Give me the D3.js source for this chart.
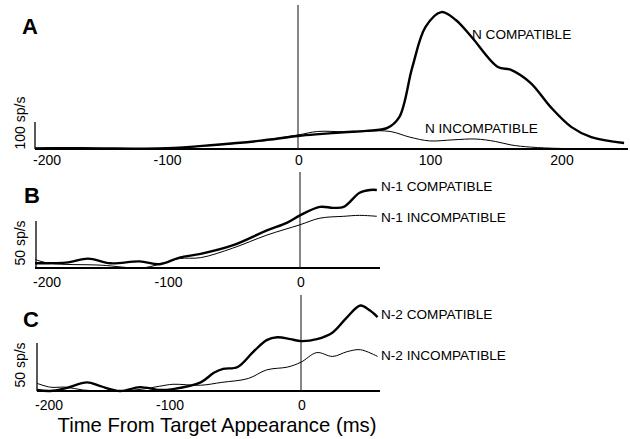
<!DOCTYPE html>
<html><head><meta charset="utf-8">
<script src="https://cdn.jsdelivr.net/npm/d3@7"></script>
<style>body{margin:0;background:#fff}svg{display:block}text{font-family:"Liberation Sans",Arial,sans-serif;fill:#000}</style>
</head><body><svg id="c" width="630" height="439"></svg>
<script>
// ---- data (time in ms relative to target appearance, rate in sp/s) ----
const tickValues = [-200, -100, 0, 100, 200];
const tickLabelsA = ["-200", "-100", "0", "100", "200"];
const tickLabelsBC = ["-200", "-100", "0"];

const tA = [-200,-175,-150,-100,-64,-30,0,16,35,52,68,77,87,97,109,120,132,152,162,177,192,208,223,248];
const nCompat = [2,3,2,3,15,30,48,55,62,67,78,118,304,452,507,478,415,304,293,244,156,81,44,22];
const tAi = [-200,-175,-150,-100,-64,-30,0,15,35,52,70,85,100,118,135,150,162,177,200,248];
const nIncompat = [2,5,2,3,14,30,52,65,64,67,65,44,30,34,37,28,15,7,2,1];

const tB = [-200,-175,-160,-143,-121,-106,-91,-75,-51,-25,-10,0,15,25,33,45,53,58];
const n1Compat = [5,6,10,5,7,4,11,15,24,40,48,56,65,64,65,80,83,83];
const tBi = [-200,-189,-150,-120,-106,-91,-75,-51,-25,0,15,33,45,58];
const n1Incompat = [9,5,3,0,4,10,11,21,35,46,53,55,56,55];

const tC = [-200,-190,-178,-162,-152,-137,-122,-107,-97,-76,-66,-59,-48,-36,-26,-18,-8,0,12,24,35,45,52,58];
const n2Compat = [1,0,3,9,5,0,4,1,2,9,19,23,25,41,53,56,54,52,54,61,77,89,84,77];
const tCi = [-200,-190,-178,-165,-150,-137,-120,-107,-97,-76,-60,-40,-26,-10,0,12,24,35,45,58];
const n2Incompat = [8,4,4,1,0,0,2,5,7,6,9,13,22,25,30,40,36,41,43,36];

const panelLetters = ["A","B","C"];
const scaleLabels = ["100 sp/s","50 sp/s","50 sp/s"];
const scaleValues = [100, 50, 50];
const seriesLabels = [["N COMPATIBLE","N INCOMPATIBLE"],["N-1 COMPATIBLE","N-1 INCOMPATIBLE"],["N-2 COMPATIBLE","N-2 INCOMPATIBLE"]];
const xTitle = "Time From Target Appearance (ms)";

// ---- layout ----
const svg = d3.select("#c");
const panels = [
  {x0:35, x1:628, zeroX:298, base:149, pxPer:0.27, vTop:5, ticks:tickValues, tickLabels:tickLabelsA,
   comp:[tA,nCompat], inc:[tAi,nIncompat], letter:[22,34], scaleX:35, ylab:[20,123],
   lab:[[472,39],[425,133]], tickY:165},
  {x0:35, x1:380, zeroX:300, base:268, pxPer:0.94, vTop:172, ticks:tickValues.slice(0,3), tickLabels:tickLabelsBC,
   comp:[tB,n1Compat], inc:[tBi,n1Incompat], letter:[24,203], scaleX:36, ylab:[20,243],
   lab:[[381,191],[381,222]], tickY:287},
  {x0:37, x1:380, zeroX:301, base:391, pxPer:0.96, vTop:295, ticks:tickValues.slice(0,3), tickLabels:tickLabelsBC,
   comp:[tC,n2Compat], inc:[tCi,n2Incompat], letter:[23,327], scaleX:37, ylab:[20,365],
   lab:[[381,319],[381,360]], tickY:410}
];

panels.forEach((p, i) => {
  const x = d3.scaleLinear().domain([-200, 0]).range([p.x0, p.zeroX]);
  const ymax = 600;
  const y = d3.scaleLinear().domain([0, ymax]).range([p.base, p.base - ymax * p.pxPer]);
  const g = svg.append("g");

  g.append("line").attr("x1", p.x0).attr("x2", p.x1).attr("y1", p.base).attr("y2", p.base)
    .attr("stroke", "#000").attr("stroke-width", 2.2);
  g.append("line").attr("x1", x(0)).attr("x2", x(0)).attr("y1", p.vTop).attr("y2", p.base)
    .attr("stroke", "#222").attr("stroke-width", 1.1);
  g.append("line").attr("x1", p.scaleX).attr("x2", p.scaleX).attr("y1", y(scaleValues[i])).attr("y2", p.base)
    .attr("stroke", "#000").attr("stroke-width", 1.3);
  g.append("text").attr("transform", `translate(${p.ylab[0] + 5},${p.ylab[1]}) rotate(-90)`)
    .attr("text-anchor", "middle").attr("font-size", 14).text(scaleLabels[i]);

  p.ticks.forEach((v, k) => {
    g.append("text").attr("x", k === 0 ? x(v) - 2 : x(v) + 1).attr("y", p.tickY)
      .attr("text-anchor", k === 0 ? "start" : "middle").attr("font-size", 14).text(p.tickLabels[k]);
  });

  g.append("text").attr("x", p.letter[0]).attr("y", p.letter[1]).attr("font-size", 22)
    .attr("font-weight", "bold").text(panelLetters[i]);

  const line = d3.line().x(d => x(d[0])).y(d => y(d[1])).curve(d3.curveCatmullRom.alpha(0.5));
  const inc = p.inc[0].map((t, k) => [t, p.inc[1][k]]);
  const comp = p.comp[0].map((t, k) => [t, p.comp[1][k]]);
  g.append("path").attr("d", line(inc)).attr("fill", "none").attr("stroke", "#000").attr("stroke-width", 1);
  g.append("path").attr("d", line(comp)).attr("fill", "none").attr("stroke", "#000").attr("stroke-width", 2.4);

  seriesLabels[i].forEach((s, k) => {
    g.append("text").attr("x", p.lab[k][0]).attr("y", p.lab[k][1]).attr("font-size", 13.6).text(s);
  });
});

svg.append("text").attr("x", 217).attr("y", 432).attr("text-anchor", "middle").attr("font-size", 20.3)
  .text(xTitle);
</script></body></html>
